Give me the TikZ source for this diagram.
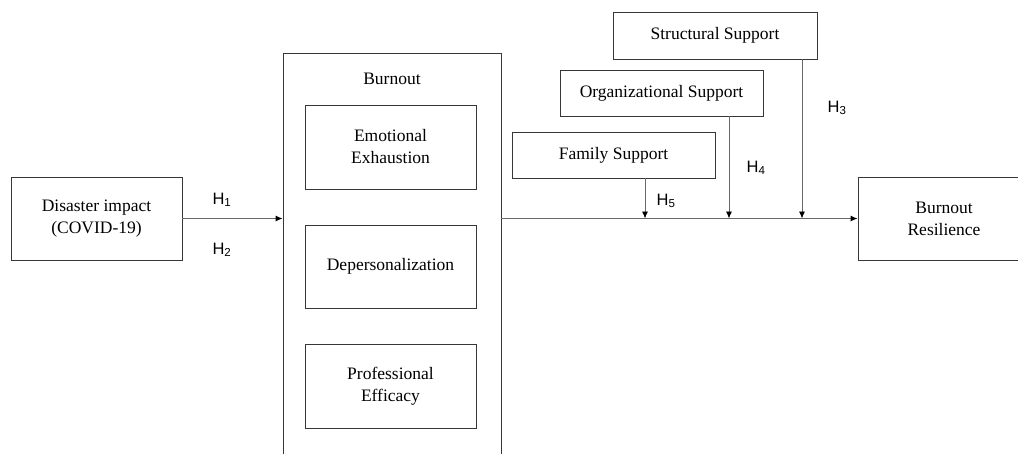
\documentclass[tikz,border=0pt]{standalone}
\usepackage{fontspec}
\setmainfont{Liberation Serif}
\newfontfamily\hfont{Liberation Sans}
\usetikzlibrary{arrows.meta, positioning}
\definecolor{boxgray}{RGB}{55,55,55}
\definecolor{linegray}{RGB}{105,105,105}
\tikzset{
  box/.style={rectangle, draw=boxgray, line width=0.9pt, align=center,
    font=\fontsize{17.5}{22}\selectfont, inner sep=0pt},
  hyp/.style={font=\hfont\fontsize{16.5}{18}\selectfont, inner sep=0pt},
  arrow/.style={-{Latex[length=7pt,width=6pt,black]}, line width=0.9pt, draw=linegray},
  line/.style={line width=0.9pt, draw=linegray}
}
\begin{document}
\begin{tikzpicture}[x=1pt, y=-1pt]
  \useasboundingbox (0,0) rectangle (1018,453);
  \clip (0,0) rectangle (1018,453);

  % exogenous variable
  \node[box, minimum width=171pt, minimum height=83pt] (dis) at (96.5,218.5) {Disaster impact\\(COVID-19)};

  % burnout and its three dimensions
  \node[box, minimum width=218pt, minimum height=417pt] (burn) at (392,261.5) {};
  \node[font=\fontsize{17.5}{22}\selectfont] (burnlbl) at (392,79) {Burnout};
  \node[box, minimum width=171pt, minimum height=84pt] (emo) at (390.5,147) {Emotional\\Exhaustion};
  \node[box, minimum width=171pt, minimum height=83pt] (dep) at (390.5,266.5) {Depersonalization};
  \node[box, minimum width=171pt, minimum height=84pt] (pro) at (390.5,386) {Professional\\Efficacy};

  % moderators
  \node[box, minimum width=204pt, minimum height=47pt] (struct) at (715,35.5) {Structural Support};
  \node[box, minimum width=203pt, minimum height=46pt] (org) at (661.5,93) {Organizational Support};
  \node[box, minimum width=203pt, minimum height=46pt] (fam) at (613.5,155) {Family Support};

  % outcome
  \node[box, minimum width=172pt, minimum height=83pt] (res) at (944,218.5) {Burnout\\Resilience};

  % paths
  \draw[arrow] (dis.east) -- (dis.east -| burn.west);
  \draw[arrow] (burn.east |- res.west) -- (res.west);

  \coordinate (j5) at (645,218.5);
  \coordinate (j4) at (729,218.5);
  \coordinate (j3) at (802,218.5);
  \draw[arrow] (fam.south -| j5) -- (j5);
  \draw[arrow] (org.south -| j4) -- (j4);
  \draw[arrow] (struct.south -| j3) -- (j3);

  % hypotheses
  \node[hyp] (h1) at (222,200) {H\textsubscript{1}};
  \node[hyp] (h2) at (222,250) {H\textsubscript{2}};
  \node[hyp] (h3) at (837,108) {H\textsubscript{3}};
  \node[hyp] (h4) at (756,168) {H\textsubscript{4}};
  \node[hyp] (h5) at (666,201) {H\textsubscript{5}};
\end{tikzpicture}
\end{document}
